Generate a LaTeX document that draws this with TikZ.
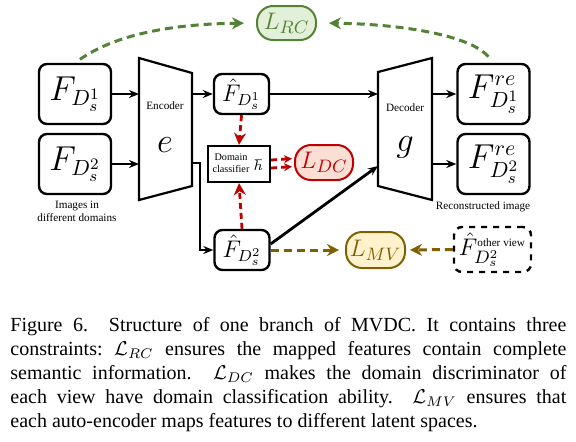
\documentclass[tikz,border=0pt]{standalone}
\usepackage{amsmath, amssymb}
\usepackage{fontspec}
\setmainfont{Liberation Serif}
\usetikzlibrary{arrows.meta,positioning}
\definecolor{rcgreen}{RGB}{84,130,53}
\definecolor{rcfill}{RGB}{226,240,217}
\definecolor{dcred}{RGB}{192,0,0}
\definecolor{dcfill}{RGB}{251,222,212}
\definecolor{mvgold}{RGB}{127,96,0}
\definecolor{mvfill}{RGB}{255,242,204}

\begin{document}
\begin{tikzpicture}[x=0.5pt,y=-0.5pt,
  featbox/.style={draw,line width=1.2pt,rounded corners=4pt,inner sep=0pt},
  imgbox/.style={featbox,minimum width=36pt,minimum height=30pt,font=\fontsize{16}{18}\selectfont},
  hatbox/.style={featbox,minimum width=27.5pt,minimum height=20pt,font=\fontsize{12}{14}\selectfont},
  lossbox/.style={draw,line width=1pt,rounded corners=8pt,inner sep=0pt,font=\fontsize{12.5}{14}\selectfont},
  smalltext/.style={font=\fontsize{5.6}{6.6}\selectfont,align=center,inner sep=0pt},
  flow/.style={line width=1.4pt,-{Stealth[length=5pt,width=4pt]}},
  lossflow/.style={line width=1.5pt,dash pattern=on 4pt off 2.5pt,-{Stealth[length=6pt,width=6pt]}}]

\useasboundingbox (0,0) rectangle (576,441);

% Input images
\node[imgbox] (in1) at (75,94) {$F_{D_s^1}$};
\node[imgbox] (in2) at (75,164) {$F_{D_s^2}$};
\node[smalltext] (inlab) at (77,211) {Images in\\different domains};

% Encoder
\draw[line width=1.1pt] (139,58) -- (192,73) -- (192,186) -- (139,200) -- cycle;
\coordinate (encin1) at (139,94);
\coordinate (encin2) at (139,164);
\coordinate (encout1) at (192,94);
\coordinate (encout2) at (192,163);
\node[smalltext] (enclab) at (165,106) {Encoder};
\node[font=\fontsize{18}{20}\selectfont] (enc) at (165,145) {$e$};

% Mapped features
\node[hatbox] (f1) at (241.5,94) {$\hat F_{D_s^1}$};
\node[hatbox] (f2) at (242,250) {$\hat F_{D_s^2}$};

% Domain classifier
\node[draw,line width=1.1pt,minimum width=31pt,minimum height=18pt,inner sep=0pt] (cls) at (239,164) {};
\node[smalltext,font=\fontsize{5.1}{6.2}\selectfont] (clslab) at (231,163) {Domain\\classifier};
\node[font=\fontsize{7}{8}\selectfont,inner sep=0pt] (clsh) at (259,165) {$\hbar$};

% Decoder
\draw[line width=1.1pt] (378,72) -- (432,58) -- (432,200) -- (378,186) -- cycle;
\coordinate (decin1) at (378,94);
\coordinate (decin2) at (378,166);
\coordinate (decout1) at (432,94);
\coordinate (decout2) at (432,164);
\node[smalltext] (declab) at (405,108) {Decoder};
\node[font=\fontsize{18}{20}\selectfont] (dec) at (405,147) {$g$};

% Reconstructed images
\node[imgbox] (out1) at (493.5,94) {$F^{re}_{D_s^1}$};
\node[imgbox] (out2) at (493.5,164) {$F^{re}_{D_s^2}$};
\node[smalltext] (outlab) at (483,207) {Reconstructed image};

% Losses
\node[lossbox,draw=rcgreen,fill=rcfill,text=rcgreen,minimum width=29.5pt,minimum height=17pt] (lrc) at (286.5,23) {$L_{RC}$};
\node[lossbox,draw=dcred,fill=dcfill,text=dcred,minimum width=29pt,minimum height=17.5pt] (ldc) at (324,162.5) {$L_{DC}$};
\node[lossbox,draw=mvgold,fill=mvfill,text=mvgold,minimum width=29.5pt,minimum height=18pt] (lmv) at (375.5,250) {$L_{MV}$};

% Feature of the other view
\node[featbox,dashed,minimum width=38.5pt,minimum height=22.5pt,font=\fontsize{13}{14}\selectfont] (other) at (492.5,249.5)
  {$\hat F^{\mbox{\fontsize{5.6}{6}\selectfont other view}}_{D_s^2}$};

% Main flow
\draw[flow] (in1.east) -- (encin1);
\draw[flow] (in2.east) -- (encin2);
\draw[flow] (encout1) -- (f1.west);
\draw[flow] (f1.east) -- (decin1);
\draw[flow] (encout2) -- (200,163) |- (f2.west);
\draw[flow] (f2.12) -- (decin2);
\draw[flow] (decout1) -- (out1.west);
\draw[flow] (decout2) -- (out2.west);

% Loss connectors
\draw[lossflow,rcgreen,shorten <=3pt,shorten >=6pt] (in1.north) .. controls (115,35) and (170,24) .. (lrc.west);
\draw[lossflow,rcgreen,shorten <=4pt,shorten >=6pt] (out1.north) .. controls (470,35) and (400,24) .. (lrc.east);
\draw[lossflow,dcred,line width=1.4pt,dash pattern=on 3pt off 2pt] (f1.south) -- (cls.north);
\draw[lossflow,dcred,line width=1.4pt,dash pattern=on 3pt off 2pt] (f2.north) -- (cls.south);
\draw[lossflow,dcred,line width=1.4pt,dash pattern=on 3pt off 2pt,-{Stealth[length=4pt,width=4pt]},shorten >=1pt] ([yshift=2pt]cls.east) -- ([yshift=2pt]ldc.west);
\draw[lossflow,dcred,line width=1.4pt,dash pattern=on 3pt off 2pt,-{Stealth[length=4pt,width=4pt]},shorten >=1pt] ([yshift=-2pt]cls.east) -- ([yshift=-2pt]ldc.west);
\draw[lossflow,mvgold,shorten >=3pt] (f2.east) -- (lmv.west);
\draw[lossflow,mvgold,shorten >=2pt] (other.west) -- (lmv.east);

% Caption
\node[anchor=north west,inner sep=0pt,text width=278pt,align=justify,font=\fontsize{10}{12}\selectfont\frenchspacing] (cap) at (10,317)
  {Figure 6.\ \ Structure of one branch of MVDC. It contains three\linebreak
   constraints: $\mathcal{L}_{RC}$ ensures the mapped features contain complete\linebreak
   semantic information.\ \ $\mathcal{L}_{DC}$ makes the domain discriminator of\linebreak
   each view have domain classification ability.\ \ $\mathcal{L}_{MV}$ ensures that\linebreak
   each auto-encoder maps features to different latent spaces.};

\end{tikzpicture}
\end{document}
